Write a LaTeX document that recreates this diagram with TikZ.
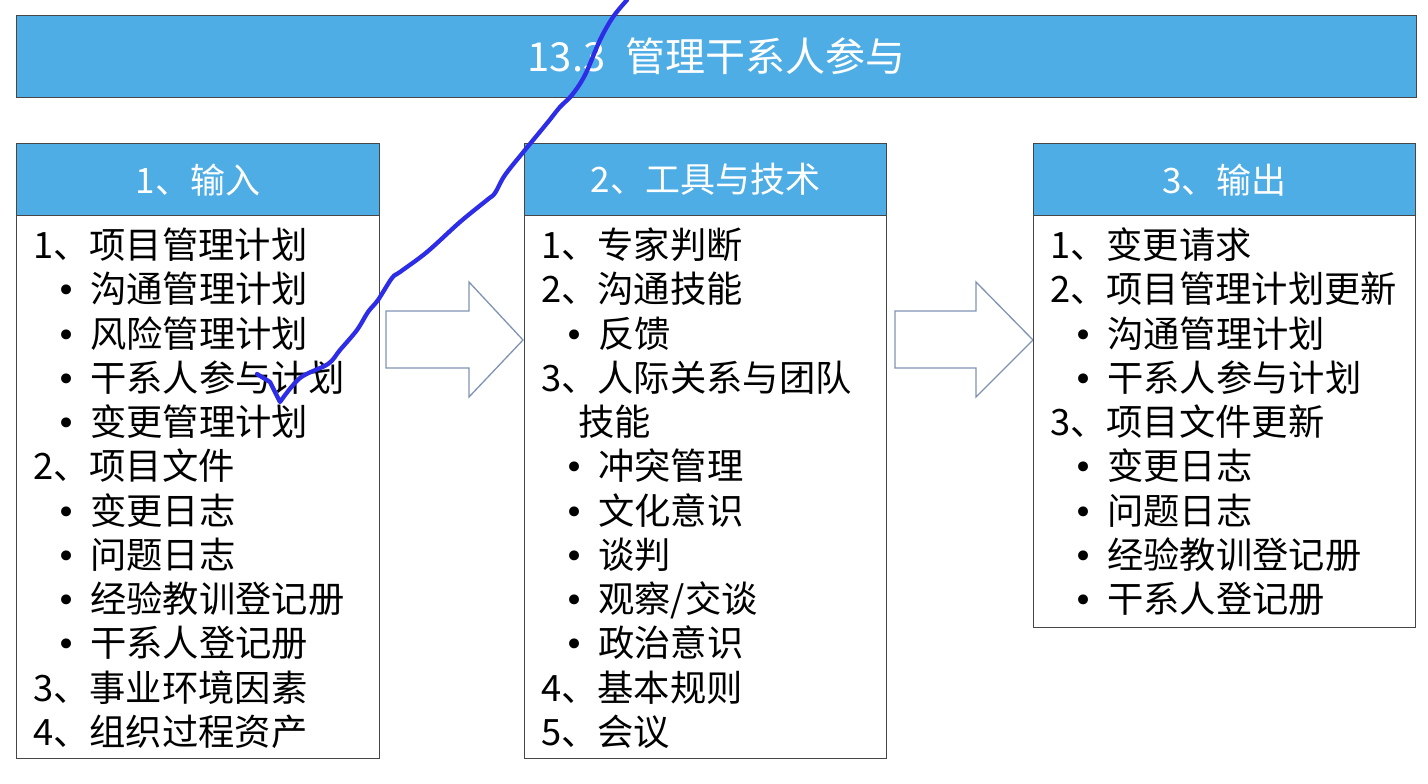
\documentclass[tikz,border=0pt]{standalone}
\usepackage{fontspec}
\setmainfont{Noto Sans CJK SC}
\newfontfamily\dotfont{DejaVu Sans}
\usetikzlibrary{calc}
\definecolor{headblue}{RGB}{79,173,230}
\definecolor{frameline}{RGB}{70,70,70}
\definecolor{arrowline}{RGB}{127,147,181}
\definecolor{penblue}{RGB}{45,45,232}

\begin{document}
\begin{tikzpicture}[
  x=1pt,y=-1pt,
  bar/.style={draw=frameline, line width=1.3pt, fill=headblue, text=white, inner sep=0pt, anchor=north west},
  bodybox/.style={draw=frameline, line width=1.3pt, fill=white, inner sep=0pt, anchor=north west},
  titletxt/.style={font=\fontsize{40}{44}\selectfont},
  headtxt/.style={font=\fontsize{35}{40}\selectfont},
  item/.style={anchor=base west, inner sep=0pt, font=\fontsize{36.3}{40}\selectfont},
  dot/.style={anchor=base, inner sep=0pt, font=\dotfont\fontsize{34}{40}\selectfont},
  blockarrow/.style={draw=arrowline, line width=1.3pt, fill=white, line join=miter},
  pen/.style={penblue, line width=4.3pt, line cap=round, line join=round}
]
\useasboundingbox (0,0) rectangle (1428,784);

% ----------------------------- Title -----------------------------
\node[bar, titletxt, minimum width=1400, minimum height=82] (title) at (16,15) {13.3\hspace{0.5em}管理干系人参与};

% block arrows between the columns
\foreach \xa/\xb/\xc in {386/469/523, 895/976/1033}
  \draw[blockarrow] (\xa,311) -- (\xb,311) -- (\xb,282) -- (\xc,340)
    -- (\xb,397) -- (\xb,368) -- (\xa,368) -- cycle;

% ----------------------------- Inputs -----------------------------
\node[bar, headtxt, minimum width=363, minimum height=72] (inHead) at (16,143) {1、输入};
\node[bodybox, minimum width=363, minimum height=543] (inBody) at (16,215) {};
\foreach \r/\t in {1/1、项目管理计划, 6/2、项目文件, 11/3、事业环境因素, 12/4、组织过程资产}
  \node[item] (in-\r) at ($(inBody.north west)+(17,{43.5+(\r-1)*44.25})$) {\t};
\foreach \r/\t in {2/沟通管理计划, 3/风险管理计划, 4/干系人参与计划, 5/变更管理计划,
                   7/变更日志, 8/问题日志, 9/经验教训登记册, 10/干系人登记册}
  {
    \node[dot] (in-dot-\r) at ($(inBody.north west)+(51,{43.5+(\r-1)*44.25})$) {•};
    \node[item] (in-\r) at ($(inBody.north west)+(74,{43.5+(\r-1)*44.25})$) {\t};
  }

% ------------------------- Tools and techniques -------------------------
\node[bar, headtxt, minimum width=362, minimum height=72] (ttHead) at (524,143) {2、工具与技术};
\node[bodybox, minimum width=362, minimum height=543] (ttBody) at (524,215) {};
\foreach \r/\t in {1/1、专家判断, 2/2、沟通技能, 4/3、人际关系与团队, 11/4、基本规则, 12/5、会议}
  \node[item] (tt-\r) at ($(ttBody.north west)+(17,{43.5+(\r-1)*44.25})$) {\t};
\node[item] (tt-5) at ($(ttBody.north west)+(54,{43.5+4*44.25})$) {技能};
\foreach \r/\t in {3/反馈, 6/冲突管理, 7/文化意识, 8/谈判, 9/{观察/交谈}, 10/政治意识}
  {
    \node[dot] (tt-dot-\r) at ($(ttBody.north west)+(51,{43.5+(\r-1)*44.25})$) {•};
    \node[item] (tt-\r) at ($(ttBody.north west)+(74,{43.5+(\r-1)*44.25})$) {\t};
  }

% ----------------------------- Outputs -----------------------------
\node[bar, headtxt, minimum width=382, minimum height=72] (outHead) at (1033,143) {3、输出};
\node[bodybox, minimum width=382, minimum height=412] (outBody) at (1033,215) {};
\foreach \r/\t in {1/1、变更请求, 2/2、项目管理计划更新, 5/3、项目文件更新}
  \node[item] (out-\r) at ($(outBody.north west)+(17,{43.5+(\r-1)*44.25})$) {\t};
\foreach \r/\t in {3/沟通管理计划, 4/干系人参与计划, 6/变更日志, 7/问题日志,
                   8/经验教训登记册, 9/干系人登记册}
  {
    \node[dot] (out-dot-\r) at ($(outBody.north west)+(51,{43.5+(\r-1)*44.25})$) {•};
    \node[item] (out-\r) at ($(outBody.north west)+(74,{43.5+(\r-1)*44.25})$) {\t};
  }

% hand-drawn pen stroke over the slide
\draw[pen] plot[smooth, tension=0.55] coordinates {
    (627,0) (613,17) (600,40) (585,75) (572,95) (560,107) (548,122)
    (525,150) (505,175) (495,193) (487,200) (460,222) (427,252)
    (400,272) (392,278) (378,300) (368,312) (357,330) (340,350)
    (328,364) (300,378) (280,402)}
  -- (270,382) -- (257,374);

\end{tikzpicture}
\end{document}
